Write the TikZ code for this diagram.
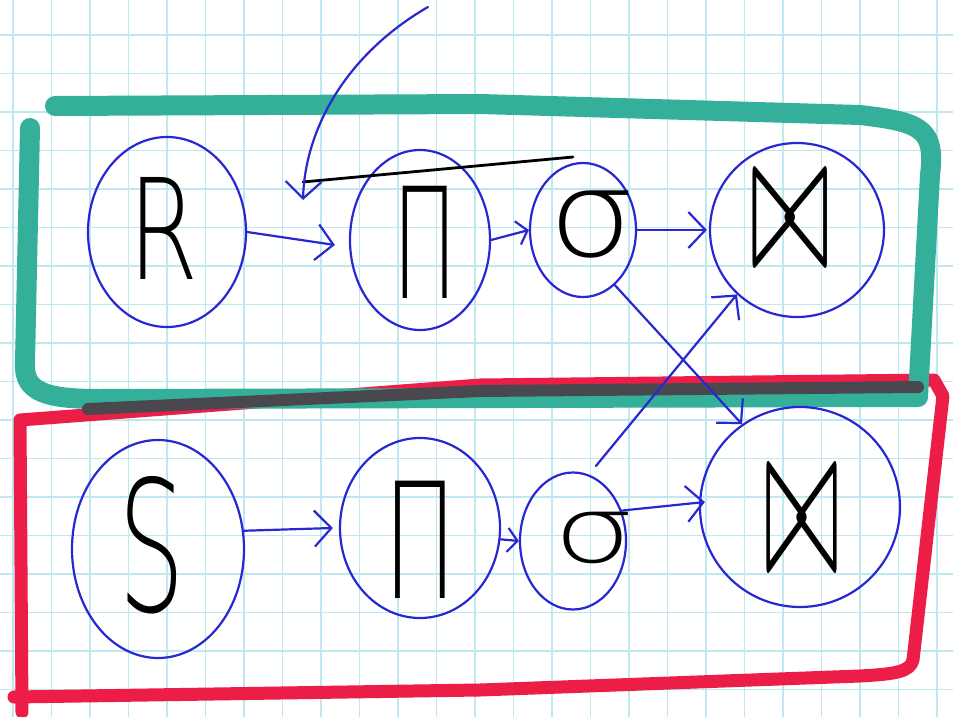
\documentclass[tikz,border=0pt]{standalone}
\usepackage{fontspec}
\setmainfont{DejaVu Sans}
\newfontfamily\hand{DejaVu Sans ExtraLight}
\usetikzlibrary{arrows.meta,shapes.geometric}
\definecolor{gridc}{RGB}{190,231,240}
\definecolor{tealc}{RGB}{52,176,154}
\definecolor{redc}{RGB}{236,30,72}
\definecolor{bluec}{RGB}{40,40,210}
\definecolor{grayc}{RGB}{72,72,78}
\begin{document}
\begin{tikzpicture}[x=1pt,y=-1pt,
  op/.style={draw=bluec, line width=2.2pt, ellipse, inner sep=0pt},
  lbl/.style={inner sep=0pt, anchor=center, text=black},
  arr/.style={draw=bluec, line width=2.2pt, line cap=round,
    -{Straight Barb[length=17pt,width=36pt,line width=2.2pt]}},
  sarr/.style={draw=bluec, line width=2.2pt, line cap=round,
    -{Straight Barb[length=10pt,width=24pt,line width=2.2pt]}},
  pen/.style={draw=black, line width=2.8pt, line cap=round}]
% page and grid
\fill[white] (0,0) rectangle (953,717);
\useasboundingbox (0,0) rectangle (953,717);
\foreach \i in {0,...,24} \draw[gridc, line width=1.2pt] (13+38.5*\i,0) -- (13+38.5*\i,717);
\foreach \j in {0,...,18} \draw[gridc, line width=1.2pt] (0,-3.5+38.5*\j) -- (953,-3.5+38.5*\j);
% red box
\draw[redc, line width=13pt, line cap=round, line join=round]
  (22,712) -- (20,420) -- (480,385) -- (934,380) -- (943,396) -- (913,660)
  .. controls (910,672) and (895,674) .. (860,676) -- (480,690) -- (14,697);
% teal box
\draw[tealc, line width=20pt, line cap=round, line join=round]
  (30,128) -- (25,362) .. controls (23,392) and (45,399) .. (100,399) -- (918,397)
  -- (930,175) .. controls (936,128) and (920,122) .. (860,115) -- (480,104) -- (55,106);
% overlap of the two strokes
\draw[grayc, line width=12pt, line cap=round] (88,409) -- (480,391) -- (918,387);
% operator circles
\node[op, minimum width=158pt, minimum height=190pt] (r)  at (167,232) {};
\node[op, minimum width=140pt, minimum height=180pt] (p1) at (420,240) {};
\node[op, minimum width=106pt, minimum height=134pt] (s1) at (583,230) {};
\node[op, minimum width=174pt, minimum height=174pt] (j1) at (797,230) {};
\node[op, minimum width=172pt, minimum height=218pt] (s)  at (158,549) {};
\node[op, minimum width=160pt, minimum height=180pt] (p2) at (420,528) {};
\node[op, minimum width=106pt, minimum height=137pt] (s2) at (573,541) {};
\node[op, minimum width=200pt, minimum height=200pt] (j2) at (800,507) {};
% labels
\node[lbl, font=\hand\fontsize{140}{140}\selectfont, xscale=0.72] (rl) at (164,228) {R};
\node[lbl, font=\hand\fontsize{140}{140}\selectfont, xscale=0.75, yscale=1.3] (sl) at (152,545) {S};
\node[lbl, font=\hand\fontsize{140}{140}\selectfont, xscale=0.62, yscale=1.1] (p1l) at (425,242) {Π};
\node[lbl, font=\hand\fontsize{140}{140}\selectfont, xscale=0.7, yscale=1.15] (p2l) at (420,540) {Π};
\node[lbl, font=\hand\fontsize{120}{120}\selectfont, xscale=1.15] (s1l) at (592,225) {σ};
\node[lbl, font=\hand\fontsize{92}{92}\selectfont, xscale=1.4] (s2l) at (594,538) {σ};
\node[lbl, xscale=9.5, yscale=20] (j1l) at (790,221) {$\bowtie$};
\node[lbl, xscale=9.0, yscale=22] (j2l) at (802,521) {$\bowtie$};
% long bar over the top projection
\coordinate (bar0) at (303,182);
\coordinate (bar1) at (573,157);
\draw[pen] (bar0) -- (bar1);
% incoming arrow from above
\coordinate (src) at (428,7);
\draw[arr] (src) .. controls (345,55) and (305,130) .. ([yshift=-18pt]bar0);
% flow arrows
\draw[arr] (r.east) -- ([xshift=-14pt,yshift=-5pt]p1.west);
\draw[sarr] (p1.east) -- (s1.west);
\draw[arr] (s1.east) -- ([xshift=-2pt]j1.west);
\draw[arr] (s1.-60) -- (j2.125);
\draw[arr] ([yshift=12pt]s2.70) -- (j1.-133);
\draw[arr] (s.12) -- ([xshift=-6pt]p2.west);
\draw[sarr] (p2.-8) -- (s2.west);
\draw[arr] (s2.32) -- ([xshift=6pt,yshift=5pt]j2.west);
\end{tikzpicture}
\end{document}
